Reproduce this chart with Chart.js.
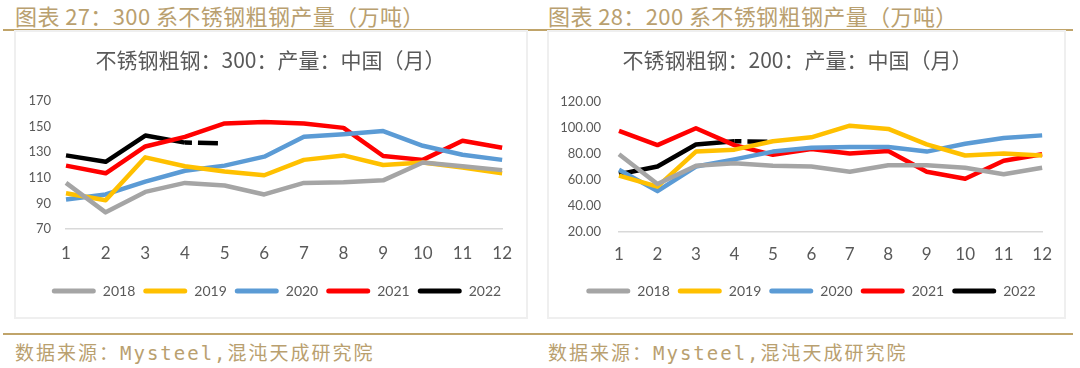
<!DOCTYPE html>
<html>
<head>
<meta charset="utf-8">
<script src="https://cdn.jsdelivr.net/npm/chart.js@4/dist/chart.umd.min.js"></script>
<style>
  body { margin: 0; width: 1080px; height: 368px; background: #fff; overflow: hidden; position: relative; }
  .rule { position: absolute; left: 3px; width: 1070px; height: 2px; background: #c0a46a; }
  .head { position: absolute; top: -1px; font: 22px "Noto Sans CJK SC", sans-serif; letter-spacing: 0.4px; color: #b9a06f; white-space: nowrap; }
  .foot { position: absolute; top: 338px; font: 19px "DejaVu Sans Mono", "Noto Sans CJK SC", monospace; letter-spacing: 2px; color: #b9a06f; white-space: nowrap; }
  .box { position: absolute; top: 30px; height: 289px; border: 2px solid #efefef; box-sizing: border-box; }
  .box canvas { position: absolute; left: 0; top: 0; }
</style>
</head>
<body>
<div class="rule" style="top:29px"></div>
<div class="rule" style="top:333px"></div>
<div class="head" style="left:15px">图表 27：300 系不锈钢粗钢产量（万吨）</div>
<div class="head" style="left:548px">图表 28：200 系不锈钢粗钢产量（万吨）</div>

<div class="box" style="left:14px;width:514px"><canvas id="c300"></canvas></div>
<div class="box" style="left:547px;width:519px"><canvas id="c200"></canvas></div>

<div class="foot" style="left:15px">数据来源：Mysteel,混沌天成研究院</div>
<div class="foot" style="left:548px">数据来源：Mysteel,混沌天成研究院</div>

<script>
// 数据
const months = ['1', '2', '3', '4', '5', '6', '7', '8', '9', '10', '11', '12'];
const years = ['2018', '2019', '2020', '2021', '2022'];

// 300 系（万吨）
const s300_2018 = [106, 83, 99, 106, 104, 97, 106, 106.5, 108, 122, 119, 116];
const s300_2019 = [98, 92.5, 126, 119, 115, 112, 124, 127.5, 120, 122, 118, 113.5];
const s300_2020 = [93, 97, 107, 115.5, 119.5, 126.5, 142, 144, 146.5, 135, 128, 124];
const s300_2021 = [119.5, 113.5, 134.5, 142, 152.5, 153.5, 152.5, 149, 127, 124, 139, 133.5];
const s300_2022 = [127.5, 122.5, 143, 137.5, 137];
const ticks300 = [70, 90, 110, 130, 150, 170];

// 200 系（万吨）
const s200_2018 = [80, 57, 71, 73, 71, 70.5, 66.5, 71.5, 71.5, 69.5, 64.5, 69.5];
const s200_2019 = [63.5, 55, 82, 83.5, 90, 93, 102, 99.5, 87.5, 79, 80.5, 79];
const s200_2020 = [68, 51.5, 70.5, 76, 82, 85, 85.5, 85.5, 82, 88, 92.5, 94.5];
const s200_2021 = [98, 87, 100, 87, 79.5, 84, 80.5, 82.5, 66.5, 61, 75, 80];
const s200_2022 = [64.5, 70.5, 87.5, 90, 89.5];
const ticks200 = [20, 40, 60, 80, 100, 120];

const lineColors = ['#a5a5a5', '#ffc000', '#5b9bd5', '#ff0000', '#000000'];
const textColor = '#595959';

// 图例、标题水平平移
const boxShift = {
  id: 'boxShift',
  afterLayout(chart, args, opts) {
    const lg = chart.legend;
    if (lg && opts.legendDx) {
      lg.left += opts.legendDx;
      lg.right += opts.legendDx;
    }
    const tb = chart.titleBlock;
    if (tb && opts.titleDx) {
      tb.left += opts.titleDx;
      tb.right += opts.titleDx;
    }
  }
};

function buildDatasets(series) {
  return series.map((data, i) => ({
    label: years[i],
    data: data,
    borderColor: lineColors[i],
    backgroundColor: lineColors[i],
    borderWidth: 4.5,
    pointRadius: 0,
    tension: 0,
    borderCapStyle: 'butt',
    borderJoinStyle: 'round',
    // 2022 最后一段为虚线
    segment: i === 4 ? {
      borderDash: ctx => ctx.p0DataIndex === data.length - 2 ? [7, 6, 20, 40] : undefined
    } : undefined
  }));
}

function makeChart(id, opt) {
  const canvas = document.getElementById(id);
  canvas.width = opt.width;
  canvas.height = opt.height;
  canvas.style.width = opt.width + 'px';
  canvas.style.height = opt.height + 'px';

  return new Chart(canvas, {
    type: 'line',
    data: { labels: months, datasets: buildDatasets(opt.series) },
    plugins: [boxShift],
    options: {
      responsive: false,
      animation: false,
      devicePixelRatio: 1,
      layout: { padding: { left: 0, right: opt.padRight, top: 0, bottom: opt.padBottom } },
      plugins: {
        boxShift: { legendDx: opt.legendDx, titleDx: opt.titleDx },
        title: {
          display: true,
          text: opt.title,
          color: textColor,
          font: { family: '"Noto Sans CJK SC", sans-serif', size: 21, weight: 'normal' },
          padding: { top: 15, bottom: opt.titleGap }
        },
        legend: {
          position: 'bottom',
          labels: {
            boxWidth: 44,
            boxHeight: 5,
            padding: 8,
            color: textColor,
            font: { family: 'Lato, sans-serif', size: 14 },
            generateLabels: chart => Chart.defaults.plugins.legend.labels.generateLabels(chart).map(item => ({
              ...item,
              fillStyle: item.strokeStyle,
              lineWidth: 0,
              lineDash: [],
              borderRadius: 2.5
            }))
          }
        },
        tooltip: { enabled: false }
      },
      scales: {
        x: {
          grid: { display: false, drawTicks: false },
          border: { display: true, color: '#d9d9d9', width: 1.5 },
          ticks: { color: textColor, font: { family: 'Lato, sans-serif', size: 17 }, padding: opt.xPad, maxRotation: 0 },
          afterFit: s => { s.height = opt.xHeight; }
        },
        y: {
          min: opt.ticks[0],
          max: opt.ticks[opt.ticks.length - 1],
          afterBuildTicks: s => { s.ticks = opt.ticks.map(v => ({ value: v })); },
          grid: { display: false, drawTicks: false },
          border: { display: false },
          ticks: {
            color: textColor,
            font: { family: 'Lato, sans-serif', size: 13 },
            padding: opt.yPad,
            callback: v => v.toFixed(opt.decimals)
          },
          afterFit: s => { s.width = opt.yWidth; }
        }
      }
    }
  });
}

makeChart('c300', {
  width: 510, height: 285,
  series: [s300_2018, s300_2019, s300_2020, s300_2021, s300_2022],
  ticks: ticks300, decimals: 0,
  title: '不锈钢粗钢：300：产量：中国（月）',
  padRight: 19, padBottom: 9, legendDx: 15, titleDx: 9,
  yWidth: 50, yPad: 15,
  titleGap: 28.8, xPad: 14, xHeight: 47
});

makeChart('c200', {
  width: 515, height: 285,
  series: [s200_2018, s200_2019, s200_2020, s200_2021, s200_2022],
  ticks: ticks200, decimals: 2,
  title: '不锈钢粗钢：200：产量：中国（月）',
  padRight: 18, padBottom: 9, legendDx: 13.5, titleDx: 0,
  yWidth: 70, yPad: 18,
  titleGap: 30.1, xPad: 12, xHeight: 44
});
</script>
</body>
</html>
